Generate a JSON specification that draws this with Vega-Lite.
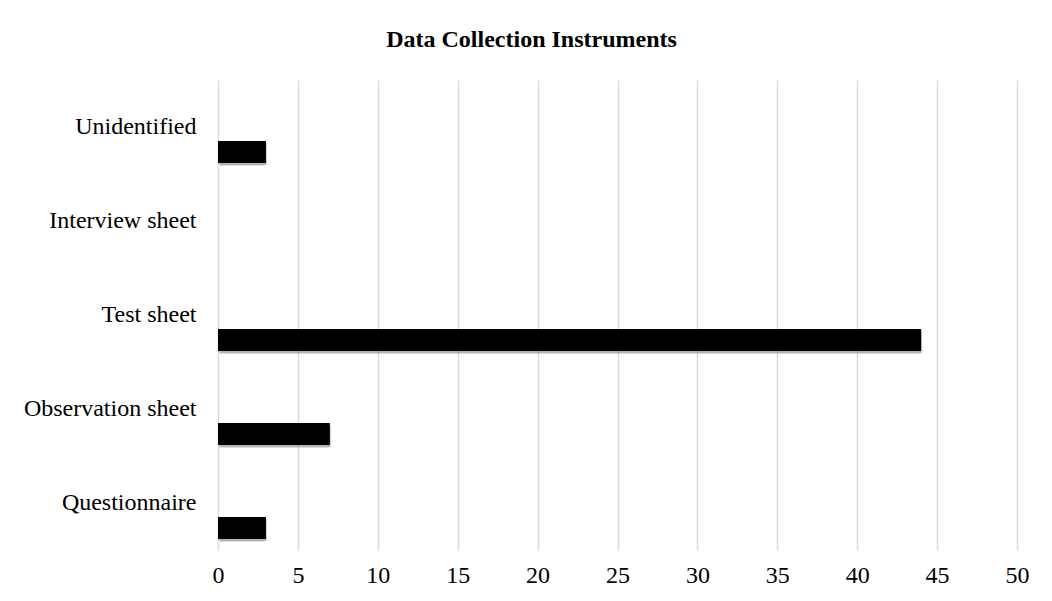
{
  "$schema": "https://vega.github.io/schema/vega-lite/v6.json",
  "width": 799,
  "height": 470,
  "autosize": {"type": "none"},
  "padding": {"left": 218, "top": 80, "right": 35, "bottom": 51},
  "background": "white",
  "title": {
    "text": "Data Collection Instruments",
    "font": "Liberation Serif",
    "fontSize": 24,
    "fontWeight": "bold",
    "color": "#000000",
    "anchor": "middle",
    "dx": -86,
    "offset": 28
  },
  "config": {
    "view": {"stroke": null},
    "font": "Liberation Serif"
  },
  "data": {
    "values": [
      {"instrument": "Unidentified", "count": 3},
      {"instrument": "Interview sheet", "count": 0},
      {"instrument": "Test sheet", "count": 44},
      {"instrument": "Observation sheet", "count": 7},
      {"instrument": "Questionnaire", "count": 3}
    ]
  },
  "encoding": {
    "y": {
      "field": "instrument",
      "type": "nominal",
      "sort": null,
      "title": null,
      "scale": {"paddingInner": 0, "paddingOuter": 0},
      "axis": {
        "domain": false,
        "ticks": false,
        "labelFont": "Liberation Serif",
        "labelFontSize": 24,
        "labelColor": "#000000",
        "labelPadding": 22,
        "labelLimit": 300
      }
    },
    "x": {
      "field": "count",
      "type": "quantitative",
      "title": null,
      "scale": {"domain": [0, 50], "nice": false},
      "axis": {
        "values": [0, 5, 10, 15, 20, 25, 30, 35, 40, 45, 50],
        "domain": false,
        "ticks": false,
        "grid": true,
        "gridColor": "#d9d9d9",
        "gridWidth": 1.5,
        "labelFont": "Liberation Serif",
        "labelFontSize": 24,
        "labelColor": "#000000",
        "labelPadding": 13,
        "labelFlush": false
      }
    }
  },
  "layer": [
    {
      "mark": {"type": "bar", "height": 22, "yOffset": 28, "xOffset": 2, "color": "#9a9a9a", "opacity": 0.35, "cornerRadius": 2}
    },
    {
      "mark": {"type": "bar", "height": 22, "yOffset": 27, "xOffset": 1, "color": "#6a6a6a", "opacity": 0.35}
    },
    {
      "mark": {"type": "bar", "height": 22, "yOffset": 25, "color": "#000000"}
    }
  ]
}
